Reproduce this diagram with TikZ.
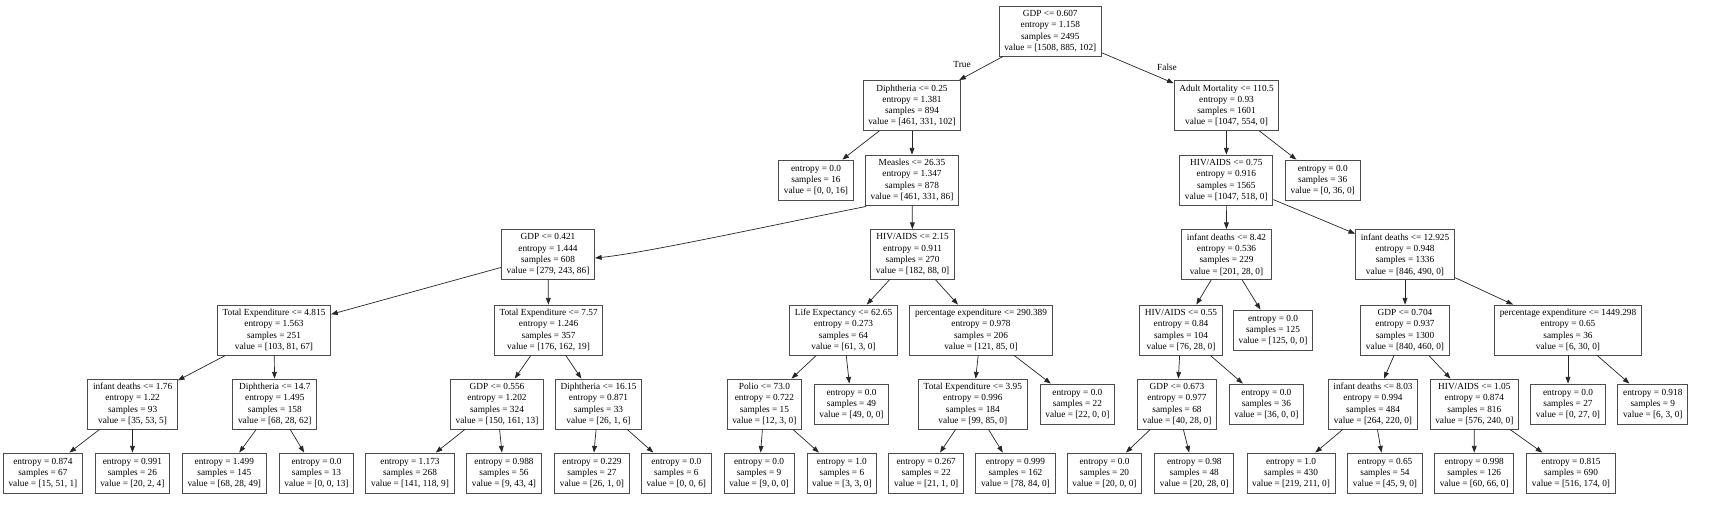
\documentclass[tikz,border=0pt]{standalone}
\usepackage{fontspec}
\setmainfont{Liberation Serif}
\usetikzlibrary{arrows.meta}
\newcommand\dtfont{\fontsize{9.3pt}{11.3pt}\selectfont}
\tikzset{
  tn/.style={draw=black!70, line width=0.9pt, rectangle, align=center,
    inner xsep=5.2pt, inner ysep=0pt, minimum height=50pt, font=\dtfont},
  lf/.style={tn, minimum height=40pt},
  ed/.style={draw=black!85, line width=0.7pt, -{Triangle[length=6.6pt,width=4.8pt]}},
  elab/.style={font=\dtfont, inner sep=0pt}
}
\begin{document}
\begin{tikzpicture}[x=1pt,y=-1pt]
\fill[white] (0,0) rectangle (1723,525);
\path[use as bounding box] (0,0) rectangle (1723,525);
% row 0
\node[tn] (r) at (1050.3,31) {GDP <= 0.607\\entropy = 1.158\\samples = 2495\\value = [1508, 885, 102]};
% row 1
\node[tn] (d1) at (912,105.5) {Diphtheria <= 0.25\\entropy = 1.381\\samples = 894\\value = [461, 331, 102]};
\node[tn] (am) at (1226.5,105.5) {Adult Mortality <= 110.5\\entropy = 0.93\\samples = 1601\\value = [1047, 554, 0]};
% row 2
\node[lf] (l16) at (816,180) {entropy = 0.0\\samples = 16\\value = [0, 0, 16]};
\node[tn] (ms) at (912,180) {Measles <= 26.35\\entropy = 1.347\\samples = 878\\value = [461, 331, 86]};
\node[tn] (h075) at (1226.3,180) {HIV/AIDS <= 0.75\\entropy = 0.916\\samples = 1565\\value = [1047, 518, 0]};
\node[lf] (l36a) at (1322.7,180) {entropy = 0.0\\samples = 36\\value = [0, 36, 0]};
% row 3
\node[tn] (g421) at (548,254.5) {GDP <= 0.421\\entropy = 1.444\\samples = 608\\value = [279, 243, 86]};
\node[tn] (h215) at (912.6,254.5) {HIV/AIDS <= 2.15\\entropy = 0.911\\samples = 270\\value = [182, 88, 0]};
\node[tn] (i842) at (1226.5,254.5) {infant deaths <= 8.42\\entropy = 0.536\\samples = 229\\value = [201, 28, 0]};
\node[tn] (i12925) at (1405,254.5) {infant deaths <= 12.925\\entropy = 0.948\\samples = 1336\\value = [846, 490, 0]};
% row 4
\node[tn] (te4815) at (274,330) {Total Expenditure <= 4.815\\entropy = 1.563\\samples = 251\\value = [103, 81, 67]};
\node[tn] (te757) at (548.6,330) {Total Expenditure <= 7.57\\entropy = 1.246\\samples = 357\\value = [176, 162, 19]};
\node[tn] (le) at (843.5,330) {Life Expectancy <= 62.65\\entropy = 0.273\\samples = 64\\value = [61, 3, 0]};
\node[tn] (pe290) at (981,330) {percentage expenditure <= 290.389\\entropy = 0.978\\samples = 206\\value = [121, 85, 0]};
\node[tn] (h055) at (1181,330) {HIV/AIDS <= 0.55\\entropy = 0.84\\samples = 104\\value = [76, 28, 0]};
\node[lf] (l125) at (1273,330) {entropy = 0.0\\samples = 125\\value = [125, 0, 0]};
\node[tn] (g704) at (1405,330) {GDP <= 0.704\\entropy = 0.937\\samples = 1300\\value = [840, 460, 0]};
\node[tn] (pe1449) at (1568,330) {percentage expenditure <= 1449.298\\entropy = 0.65\\samples = 36\\value = [6, 30, 0]};
% row 5
\node[tn] (i176) at (132.6,404) {infant deaths <= 1.76\\entropy = 1.22\\samples = 93\\value = [35, 53, 5]};
\node[tn] (d147) at (274.8,404) {Diphtheria <= 14.7\\entropy = 1.495\\samples = 158\\value = [68, 28, 62]};
\node[tn] (g556) at (497,404) {GDP <= 0.556\\entropy = 1.202\\samples = 324\\value = [150, 161, 13]};
\node[tn] (d1615) at (598.5,404) {Diphtheria <= 16.15\\entropy = 0.871\\samples = 33\\value = [26, 1, 6]};
\node[tn] (po) at (764.4,404) {Polio <= 73.0\\entropy = 0.722\\samples = 15\\value = [12, 3, 0]};
\node[lf] (l49) at (851.5,404) {entropy = 0.0\\samples = 49\\value = [49, 0, 0]};
\node[tn] (te395) at (972.8,404) {Total Expenditure <= 3.95\\entropy = 0.996\\samples = 184\\value = [99, 85, 0]};
\node[lf] (l22a) at (1077.4,404) {entropy = 0.0\\samples = 22\\value = [22, 0, 0]};
\node[tn] (g673) at (1177,404) {GDP <= 0.673\\entropy = 0.977\\samples = 68\\value = [40, 28, 0]};
\node[lf] (l36b) at (1266.4,404) {entropy = 0.0\\samples = 36\\value = [36, 0, 0]};
\node[tn] (i803) at (1373,404) {infant deaths <= 8.03\\entropy = 0.994\\samples = 484\\value = [264, 220, 0]};
\node[tn] (h105) at (1474.3,404) {HIV/AIDS <= 1.05\\entropy = 0.874\\samples = 816\\value = [576, 240, 0]};
\node[lf] (l27a) at (1568,404) {entropy = 0.0\\samples = 27\\value = [0, 27, 0]};
\node[lf] (l9a) at (1652.8,404) {entropy = 0.918\\samples = 9\\value = [6, 3, 0]};
% row 6
\node[lf] (la) at (42.9,473) {entropy = 0.874\\samples = 67\\value = [15, 51, 1]};
\node[lf] (lb) at (132.4,473) {entropy = 0.991\\samples = 26\\value = [20, 2, 4]};
\node[lf] (lc) at (224.3,473) {entropy = 1.499\\samples = 145\\value = [68, 28, 49]};
\node[lf] (ld) at (316.5,473) {entropy = 0.0\\samples = 13\\value = [0, 0, 13]};
\node[lf] (le6) at (410,473) {entropy = 1.173\\samples = 268\\value = [141, 118, 9]};
\node[lf] (lf6) at (504,473) {entropy = 0.988\\samples = 56\\value = [9, 43, 4]};
\node[lf] (lg) at (592,473) {entropy = 0.229\\samples = 27\\value = [26, 1, 0]};
\node[lf] (lh) at (676.3,473) {entropy = 0.0\\samples = 6\\value = [0, 0, 6]};
\node[lf] (li) at (759,473) {entropy = 0.0\\samples = 9\\value = [9, 0, 0]};
\node[lf] (lj) at (841.9,473) {entropy = 1.0\\samples = 6\\value = [3, 3, 0]};
\node[lf] (lk) at (926.2,473) {entropy = 0.267\\samples = 22\\value = [21, 1, 0]};
\node[lf] (ll) at (1015.4,473) {entropy = 0.999\\samples = 162\\value = [78, 84, 0]};
\node[lf] (lm) at (1104.5,473) {entropy = 0.0\\samples = 20\\value = [20, 0, 0]};
\node[lf] (ln) at (1194.3,473) {entropy = 0.98\\samples = 48\\value = [20, 28, 0]};
\node[lf] (lo) at (1291,473) {entropy = 1.0\\samples = 430\\value = [219, 211, 0]};
\node[lf] (lp) at (1385,473) {entropy = 0.65\\samples = 54\\value = [45, 9, 0]};
\node[lf] (lq) at (1474.2,473) {entropy = 0.998\\samples = 126\\value = [60, 66, 0]};
\node[lf] (lr) at (1571,473) {entropy = 0.815\\samples = 690\\value = [516, 174, 0]};
% labels
\node[elab] (tlab) at (962,64) {True};
\node[elab] (flab) at (1167,67) {False};
% edges
\draw[ed] (r) -- (d1);
\draw[ed] (r) -- (am);
\draw[ed] (d1) -- (l16);
\draw[ed] (d1) -- (ms);
\draw[ed] (am) -- (h075);
\draw[ed] (am) -- (l36a);
\draw[ed] ([xshift=1pt,yshift=-1pt]ms.south west) .. controls +(-100,20) and +(50,-5) .. ([yshift=-3.5pt]g421.east);
\draw[ed] (ms) -- (h215);
\draw[ed] (h075) -- (i842);
\draw[ed] (h075) -- (i12925);
\draw[ed] (g421) -- (te4815);
\draw[ed] (g421) -- (te757);
\draw[ed] (h215) -- (le);
\draw[ed] (h215) -- (pe290);
\draw[ed] (i842) -- (h055);
\draw[ed] (i842) -- (l125);
\draw[ed] (i12925) -- (g704);
\draw[ed] (i12925) -- (pe1449);
\draw[ed] (te4815) -- (i176);
\draw[ed] (te4815) -- (d147);
\draw[ed] (te757) -- (g556);
\draw[ed] (te757) -- (d1615);
\draw[ed] (le) -- (po);
\draw[ed] (le) -- (l49);
\draw[ed] (pe290) -- (te395);
\draw[ed] (pe290) -- (l22a);
\draw[ed] (h055) -- (g673);
\draw[ed] (h055) -- (l36b);
\draw[ed] (g704) -- (i803);
\draw[ed] (g704) -- (h105);
\draw[ed] (pe1449) -- (l27a);
\draw[ed] (pe1449) -- (l9a);
\draw[ed] (i176) -- (la);
\draw[ed] (i176) -- (lb);
\draw[ed] (d147) -- (lc);
\draw[ed] (d147) -- (ld);
\draw[ed] (g556) -- (le6);
\draw[ed] (g556) -- (lf6);
\draw[ed] (d1615) -- (lg);
\draw[ed] (d1615) -- (lh);
\draw[ed] (po) -- (li);
\draw[ed] (po) -- (lj);
\draw[ed] (te395) -- (lk);
\draw[ed] (te395) -- (ll);
\draw[ed] (g673) -- (lm);
\draw[ed] (g673) -- (ln);
\draw[ed] (i803) -- (lo);
\draw[ed] (i803) -- (lp);
\draw[ed] (h105) -- (lq);
\draw[ed] (h105) -- (lr);
\end{tikzpicture}
\end{document}
